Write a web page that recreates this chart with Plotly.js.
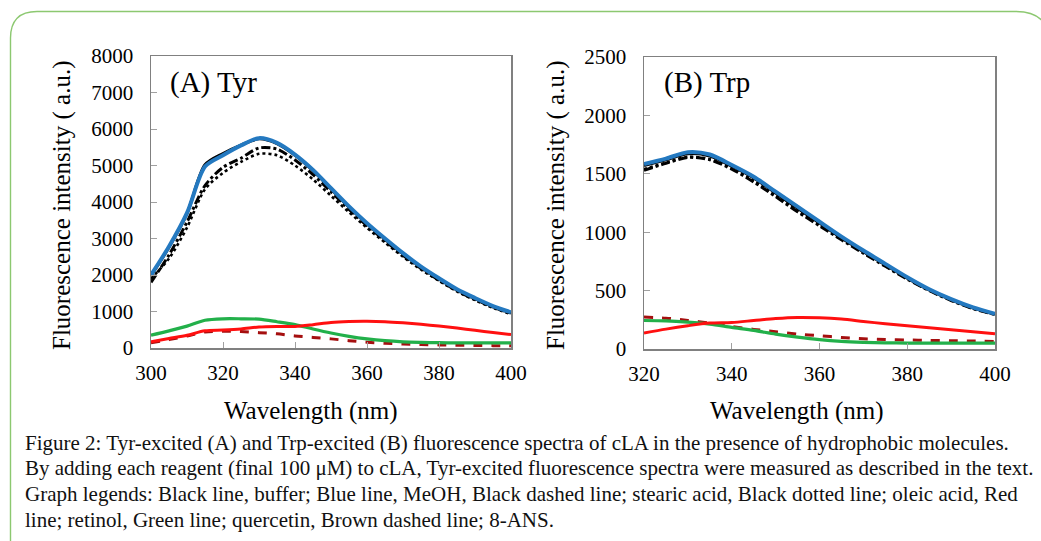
<!DOCTYPE html>
<html>
<head>
<meta charset="utf-8">
<script src="https://cdn.plot.ly/plotly-3.0.1.min.js"></script>
<style>html,body{margin:0;padding:0;background:#fff;}#chart{width:1041px;height:541px;}</style>
</head>
<body>
<div id="chart"></div>
<script>
// ---------- data ----------
const wavelengthA = [300,305,310,315,320,325,330,335,340,345,350,355,360,365,370,375,380,385,390,395,400];
const bufferA   = [1980,2760,3680,5020,5330,5560,5730,5600,5280,4860,4360,3860,3400,2980,2580,2210,1890,1590,1350,1130,960];
const meohA     = [2000,2780,3700,4970,5280,5550,5750,5620,5300,4880,4380,3880,3420,3000,2600,2230,1910,1610,1370,1150,980];
const stearicA  = [1800,2550,3450,4450,4950,5200,5480,5450,5150,4750,4280,3800,3350,2940,2540,2180,1860,1570,1330,1120,950];
const oleicA    = [1900,2450,3300,4350,4800,5100,5320,5280,5000,4620,4170,3720,3290,2890,2500,2150,1840,1550,1310,1100,930];
const retinolA  = [170,260,350,470,490,520,575,590,590,640,700,725,730,720,690,650,600,545,485,425,370];
const quercetinA= [350,470,600,760,800,800,790,720,640,520,410,320,250,200,170,155,145,140,140,140,140];
const ansA      = [140,230,330,440,460,450,420,390,330,290,250,200,160,130,110,95,85,75,70,65,60];

const wavelengthB = [320,325,330,335,340,345,350,355,360,365,370,375,380,385,390,395,400];
const bufferB   = [1570,1620,1672,1652,1565,1465,1335,1205,1078,950,833,720,607,505,420,350,297];
const meohB     = [1583,1630,1685,1665,1575,1475,1347,1219,1090,962,843,729,615,512,427,356,302];
const stearicB  = [1530,1590,1640,1620,1540,1430,1305,1175,1055,935,820,708,598,500,415,345,295];
const oleicB    = [1540,1595,1645,1625,1550,1440,1315,1185,1062,940,826,712,602,503,418,348,297];
const retinolB  = [136,170,199,222,227,244,261,270,267,256,236,216,199,182,165,148,131];
const quercetinB= [244,241,230,213,185,159,128,102,80,65,57,53,51,51,51,51,51];
const ansB      = [273,264,244,222,193,168,148,128,114,99,88,82,77,74,71,68,65];

const yTicksA = [0,1000,2000,3000,4000,5000,6000,7000,8000];
const yTicksB = [0,500,1000,1500,2000,2500];
const xTicksA = [300,320,340,360,380,400];
const xTicksB = [320,340,360,380,400];

const panelLabels = ["(A) Tyr", "(B) Trp"];
const xTitle = "Wavelength (nm)";
const yTitle = "Fluorescence intensity ( a.u.)";
const captionLines = [
  "Figure 2: Tyr-excited (A) and Trp-excited (B) fluorescence spectra of cLA in the presence of hydrophobic molecules.",
  "By adding each reagent (final 100 μM) to cLA, Tyr-excited fluorescence spectra were measured as described in the text.",
  "Graph legends: Black line, buffer; Blue line, MeOH, Black dashed line; stearic acid, Black dotted line; oleic acid, Red",
  "line; retinol, Green line; quercetin, Brown dashed line; 8-ANS."
];

// ---------- styles ----------
const W = 1041, H = 541;
const px = v => v / W;
const py = v => 1 - v / H;
const serif = "Liberation Serif";

const styles = {
  ans:       {color:'#a50f0f', width:3, dash:'dash'},
  quercetin: {color:'#22b04a', width:3.2, dash:'solid'},
  retinol:   {color:'#ff1010', width:3, dash:'solid'},
  oleic:     {color:'#000000', width:2.6, dash:'dot'},
  stearic:   {color:'#000000', width:3, dash:'dashdot'},
  buffer:    {color:'#000000', width:3, dash:'solid'},
  meoh:      {color:'#2479c0', width:4, dash:'solid'}
};

function tr(x, y, s, xa, ya, name) {
  return {x:x, y:y, type:'scatter', mode:'lines', name:name, xaxis:xa, yaxis:ya,
          line:{color:s.color, width:s.width, dash:s.dash, shape:'spline', smoothing:0.8},
          hoverinfo:'skip', showlegend:false};
}

const data = [
  tr(wavelengthA, ansA, styles.ans, 'x', 'y', '8-ANS'),
  tr(wavelengthA, quercetinA, styles.quercetin, 'x', 'y', 'quercetin'),
  tr(wavelengthA, retinolA, styles.retinol, 'x', 'y', 'retinol'),
  tr(wavelengthA, oleicA, styles.oleic, 'x', 'y', 'oleic acid'),
  tr(wavelengthA, stearicA, styles.stearic, 'x', 'y', 'stearic acid'),
  tr(wavelengthA, bufferA, styles.buffer, 'x', 'y', 'buffer'),
  tr(wavelengthA, meohA, styles.meoh, 'x', 'y', 'MeOH'),
  tr(wavelengthB, ansB, styles.ans, 'x2', 'y2', '8-ANS'),
  tr(wavelengthB, quercetinB, styles.quercetin, 'x2', 'y2', 'quercetin'),
  tr(wavelengthB, retinolB, styles.retinol, 'x2', 'y2', 'retinol'),
  tr(wavelengthB, oleicB, styles.oleic, 'x2', 'y2', 'oleic acid'),
  tr(wavelengthB, stearicB, styles.stearic, 'x2', 'y2', 'stearic acid'),
  tr(wavelengthB, bufferB, styles.buffer, 'x2', 'y2', 'buffer'),
  tr(wavelengthB, meohB, styles.meoh, 'x2', 'y2', 'MeOH')
];

const tickFont = {family:serif, size:21, color:'#000'};
function xAxis(domain, range, ticks, anchor) {
  return {domain:domain, range:range, tickvals:ticks, ticktext:ticks.map(String), anchor:anchor,
          showline:true, mirror:true, linecolor:'#808080', linewidth:1.5, showgrid:false, zeroline:false,
          ticks:'inside', ticklen:6, tickcolor:'#a0a0a0', tickwidth:1, tickfont:tickFont, ticklabelstandoff:5};
}
function yAxis(domain, range, ticks, anchor) {
  return {domain:domain, range:range, tickvals:ticks, ticktext:ticks.map(String), anchor:anchor,
          showline:true, mirror:true, linecolor:'#808080', linewidth:1.5, showgrid:false, zeroline:false,
          ticks:'inside', ticklen:6, tickcolor:'#a0a0a0', tickwidth:1, tickfont:tickFont, ticklabelstandoff:12};
}

const annotations = [
  {text:panelLabels[0], x:px(168), y:py(82), xanchor:'left', yanchor:'middle', font:{family:serif, size:29, color:'#000'}},
  {text:panelLabels[1], x:px(662), y:py(82), xanchor:'left', yanchor:'middle', font:{family:serif, size:29, color:'#000'}},
  {text:xTitle, x:px(311), y:py(411), xanchor:'center', yanchor:'middle', font:{family:serif, size:25, color:'#000'}},
  {text:xTitle, x:px(797), y:py(411), xanchor:'center', yanchor:'middle', font:{family:serif, size:25, color:'#000'}},
  {text:yTitle, x:px(62), y:py(205), xanchor:'center', yanchor:'middle', textangle:-90, font:{family:serif, size:25, color:'#000'}},
  {text:yTitle, x:px(556), y:py(205), xanchor:'center', yanchor:'middle', textangle:-90, font:{family:serif, size:25, color:'#000'}}
];
const capY = [443, 468, 494, 520];
captionLines.forEach((t, i) => annotations.push({
  text:t, x:px(23), y:py(capY[i]), xanchor:'left', yanchor:'middle',
  font:{family:serif, size:21, color:'#111'}
}));
annotations.forEach(a => { a.xref = 'paper'; a.yref = 'paper'; a.showarrow = false; });

// rounded green frame
const framePath = `M ${px(10.5)} ${py(545)} L ${px(10.5)} ${py(38)} Q ${px(10.5)} ${py(11.5)} ${px(37)} ${py(11.5)} L ${px(1015)} ${py(11.5)} Q ${px(1038)} ${py(11.5)} ${px(1045)} ${py(25)}`;

const layout = {
  width:W, height:H, margin:{l:0, r:0, t:0, b:0},
  paper_bgcolor:'#fff', plot_bgcolor:'#fff', showlegend:false,
  font:{family:serif},
  xaxis: xAxis([px(151), px(511)], [300,400], xTicksA, 'y'),
  yaxis: yAxis([py(348), py(56)], [0,8000], yTicksA, 'x'),
  xaxis2: xAxis([px(644), px(995)], [320,400], xTicksB, 'y2'),
  yaxis2: yAxis([py(349), py(57)], [0,2500], yTicksB, 'x2'),
  annotations: annotations,
  shapes: [{type:'path', xref:'paper', yref:'paper', path:framePath, line:{color:'#8cc870', width:1.4}}]
};

Plotly.newPlot('chart', data, layout, {displayModeBar:false, staticPlot:true});
</script>
</body>
</html>
